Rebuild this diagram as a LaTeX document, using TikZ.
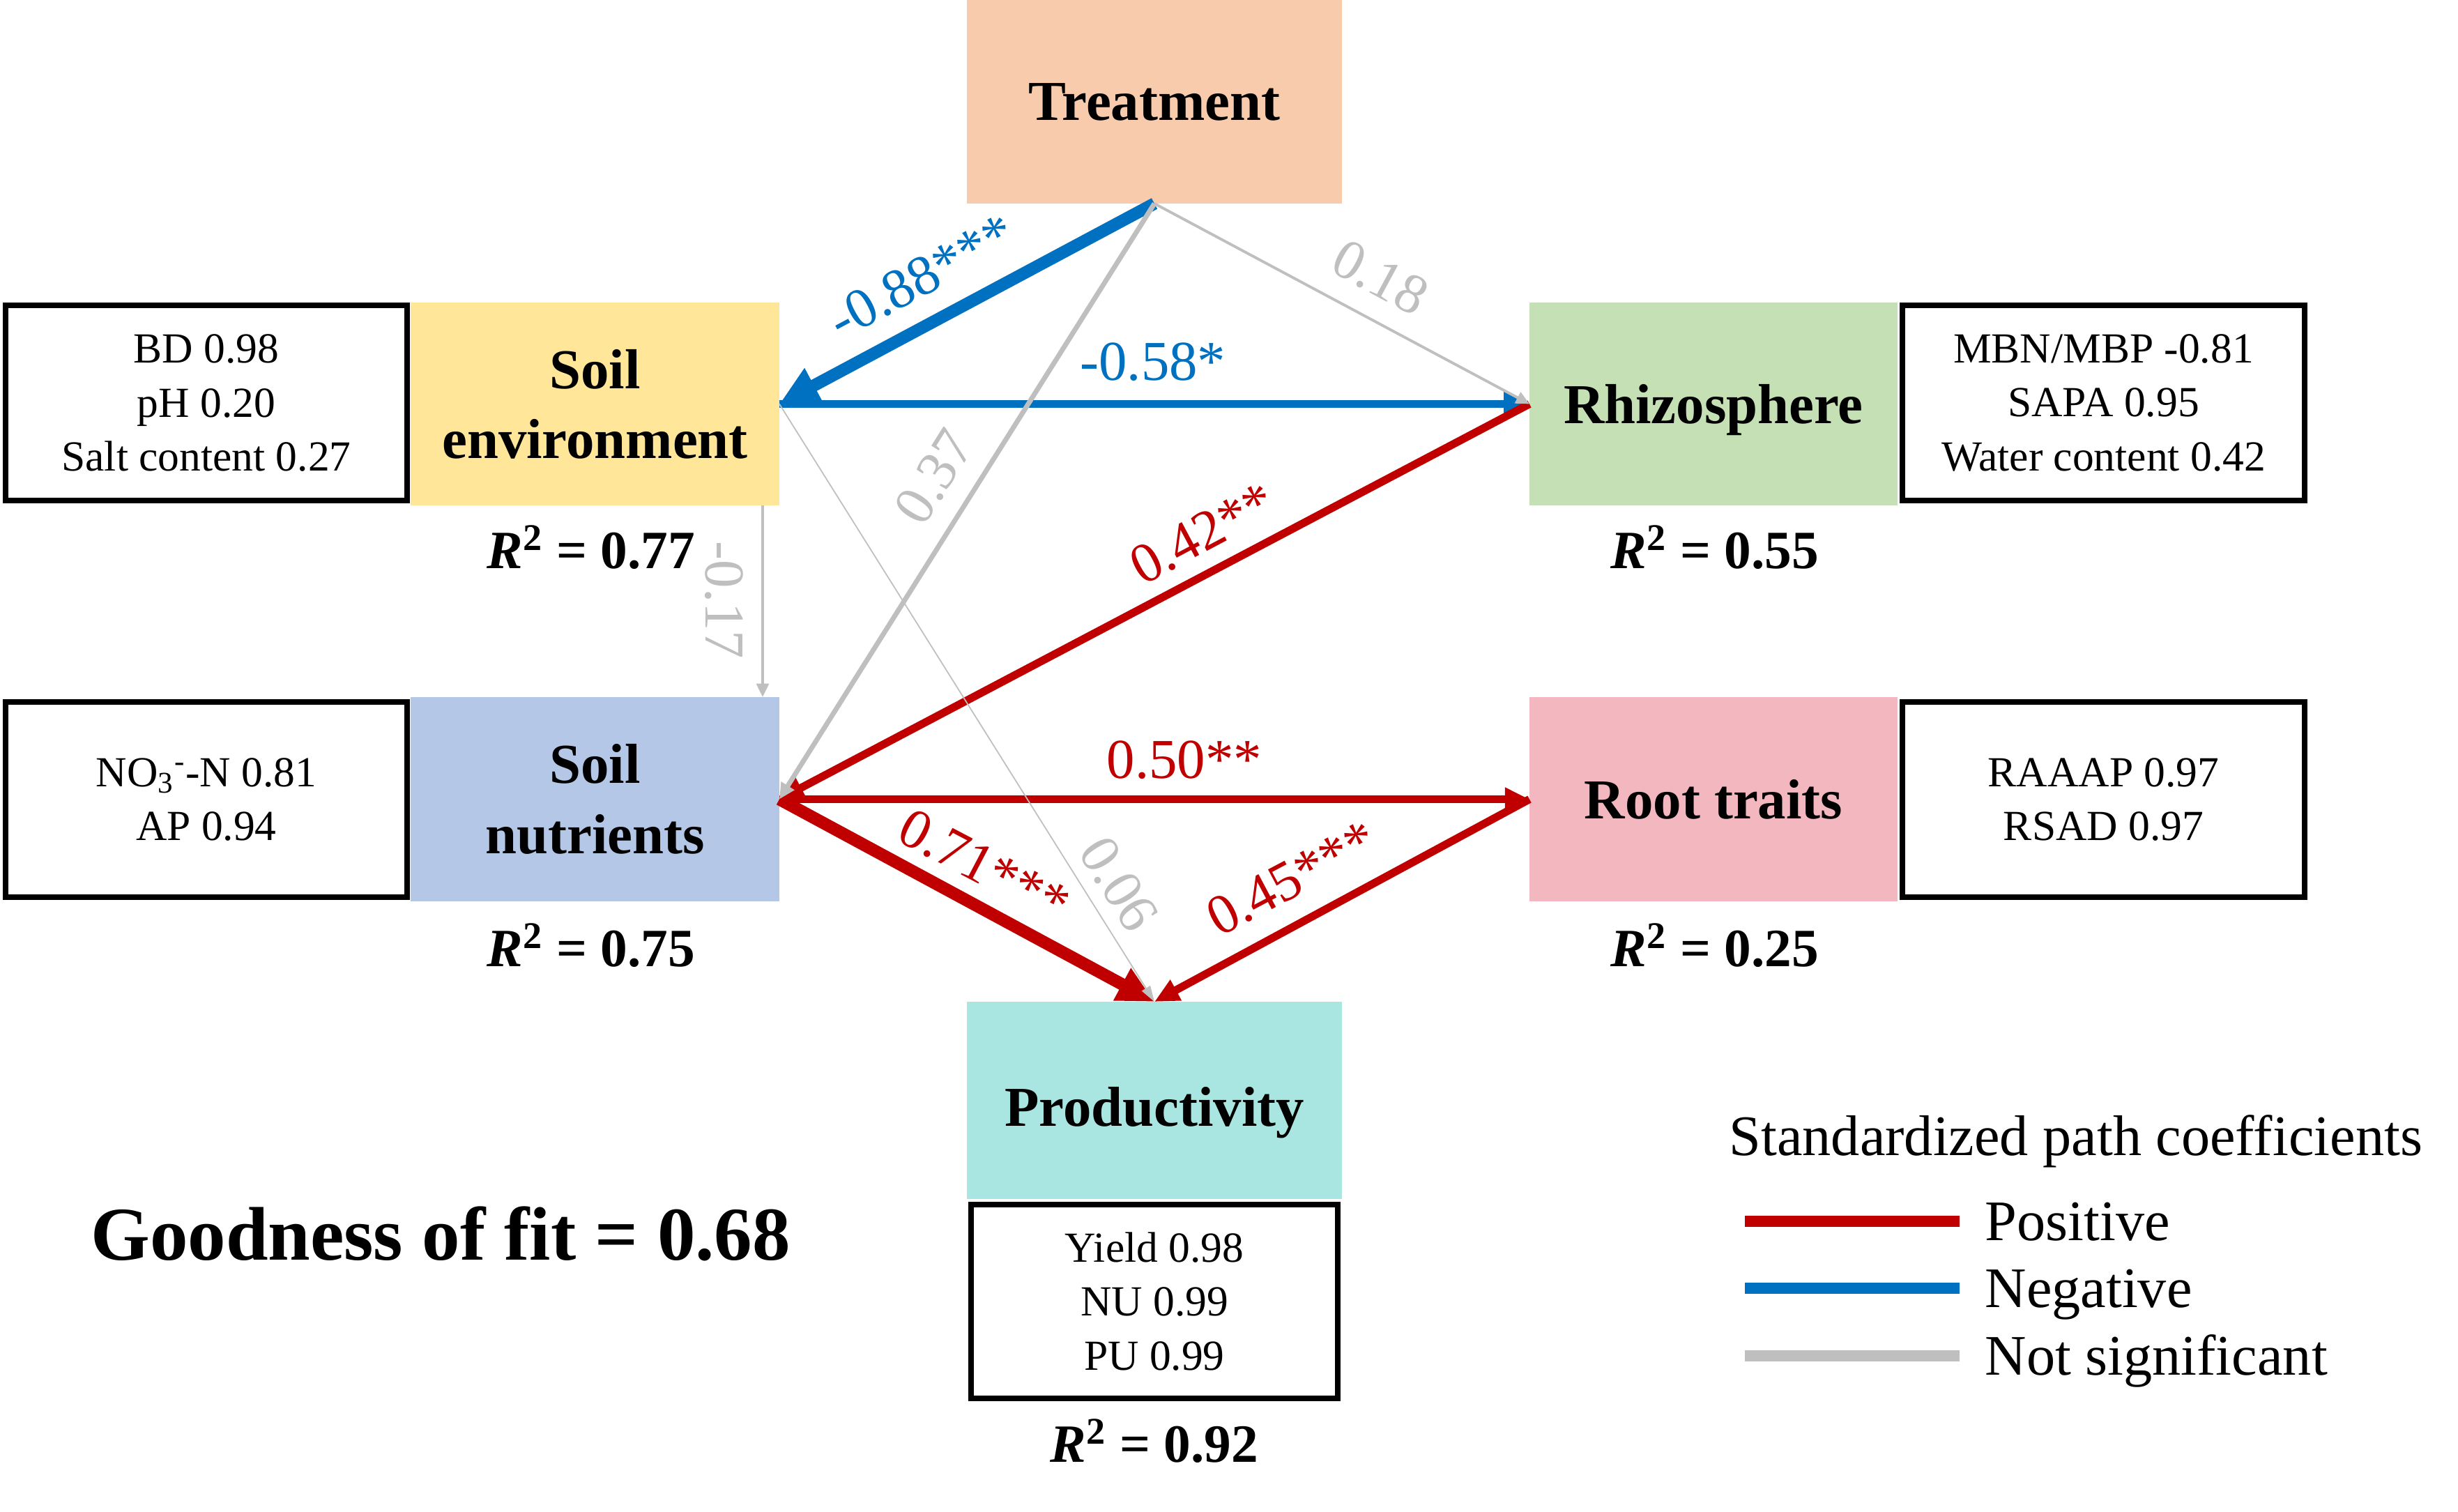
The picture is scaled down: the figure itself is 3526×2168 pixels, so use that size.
\documentclass[tikz,border=0pt]{standalone}
\usepackage{fontspec}
\setmainfont{Liberation Serif}
\usetikzlibrary{arrows.meta,calc}
\definecolor{cT}{HTML}{F8CBAD}
\definecolor{cSE}{HTML}{FFE699}
\definecolor{cSN}{HTML}{B4C7E7}
\definecolor{cRH}{HTML}{C5E0B4}
\definecolor{cRT}{HTML}{F3B7BF}
\definecolor{cPR}{HTML}{AAE6E1}
\definecolor{cBlue}{HTML}{0070C0}
\definecolor{cRed}{HTML}{C00000}
\definecolor{cGray}{HTML}{BFBFBF}
\newcommand{\BoxFont}{\fontsize{23pt}{28.5pt}\selectfont\bfseries}
\newcommand{\IndFont}{\fontsize{17.5pt}{22pt}\selectfont}
\newcommand{\LblFont}{\fontsize{23pt}{27pt}\selectfont}
\newcommand{\RsqFont}{\fontsize{22pt}{26pt}\selectfont\bfseries}
\newcommand{\GofFont}{\fontsize{31pt}{36pt}\selectfont\bfseries}
\newcommand{\LegFont}{\fontsize{23.4pt}{28pt}\selectfont}
\begin{document}
\begin{tikzpicture}[x=0.1mm,y=-0.1mm,
  fbox/.style={inner sep=0pt, outer sep=0pt, align=center, font=\BoxFont},
  ibox/.style={draw=black, line width=0.75mm, fill=white, inner sep=0pt, outer sep=0pt, align=center, font=\IndFont},
  lbl/.style={inner sep=1pt, font=\LblFont},
  rsq/.style={inner sep=0pt, font=\RsqFont},
  legtxt/.style={anchor=base west, inner sep=0pt, font=\LegFont},
  legline/.style={line width=4.3pt},
  thickpos/.style={cRed, line width=5pt, -{Triangle[length=15pt, width=14pt]}},
  medpos/.style={cRed, line width=3.2pt, -{Triangle[length=10pt, width=9pt]}},
  thickneg/.style={cBlue, line width=5pt, -{Triangle[length=16pt, width=15pt]}},
  medneg/.style={cBlue, line width=3.3pt, -{Triangle[length=10.5pt, width=9.5pt]}},
  nsmed/.style={cGray, line width=2pt, -{Triangle[length=6.5pt, width=6pt]}},
  nsthin/.style={cGray, line width=1.1pt, -{Triangle[length=5.5pt, width=5pt]}},
  nshair/.style={cGray, line width=0.5pt, -{Triangle[length=6.5pt, width=4pt]}}
]
\useasboundingbox (0,0) rectangle (3526,2168);

% main boxes
\node[fbox, fill=cT, minimum width=53.8mm, minimum height=29.2mm] (T) at (1656,146) {Treatment};
\node[fbox, fill=cSE, minimum width=52.9mm, minimum height=29.1mm] (SE) at (853.5,579.5) {Soil\\environment};
\node[fbox, fill=cSN, minimum width=52.9mm, minimum height=29.3mm] (SN) at (853.5,1146.5) {Soil\\nutrients};
\node[fbox, fill=cRH, minimum width=52.8mm, minimum height=29.1mm, text depth=0pt] (RH) at (2458,579.5) {Rhizosphere};
\node[fbox, fill=cRT, minimum width=52.8mm, minimum height=29.3mm] (RT) at (2458,1146.5) {Root traits};
\node[fbox, fill=cPR, minimum width=53.8mm, minimum height=28.3mm, text depth=0pt, text height=21pt] (PR) at (1656,1578.5) {Productivity};

% indicator boxes
\node[ibox, minimum width=57.6mm, minimum height=28.0mm] (BD) at (296,578) {BD 0.98\\pH 0.20\\Salt content 0.27};
\node[ibox, minimum width=57.6mm, minimum height=28.0mm] (NO) at (296,1147) {NO\textsubscript{3}\textsuperscript{-}-N 0.81\\AP 0.94};
\node[ibox, minimum width=57.7mm, minimum height=28.0mm] (MB) at (3017.5,578) {MBN/MBP -0.81\\SAPA 0.95\\Water content 0.42};
\node[ibox, minimum width=57.7mm, minimum height=28.0mm] (RA) at (3017.5,1147) {RAAAP 0.97\\RSAD 0.97};
\node[ibox, minimum width=52.6mm, minimum height=27.8mm] (YD) at (1656,1867) {Yield 0.98\\NU 0.99\\PU 0.99};

% R2 labels
\node[rsq] (r1) at (848,785) {\textit{R}\textsuperscript{2} = 0.77};
\node[rsq] (r2) at (2460,785) {\textit{R}\textsuperscript{2} = 0.55};
\node[rsq] (r3) at (848,1356) {\textit{R}\textsuperscript{2} = 0.75};
\node[rsq] (r4) at (2460,1356) {\textit{R}\textsuperscript{2} = 0.25};
\node[rsq] (r5) at (1656,2067) {\textit{R}\textsuperscript{2} = 0.92};

\node[inner sep=0pt, font=\GofFont] (gof) at (632,1770) {Goodness of fit = 0.68};

% significant paths
\draw[thickneg] (T.south) -- (SE.east);
\draw[medneg] (SE.east) -- (RH.west);
\draw[medpos] (RH.west) -- (SN.east);
\draw[medpos] (SN.east) -- (RT.west);
\draw[thickpos] (SN.east) -- (PR.north);
\draw[medpos] (RT.west) -- (PR.north);

% non-significant paths
\draw[nsthin] (T.south) -- (RH.west);
\draw[nsmed] (T.south) -- (SN.east);
\draw[nsthin] ($(SE.south east)+(-24,0)$) -- ($(SN.north east)+(-24,0)$);
\draw[nshair] (SE.east) -- (PR.north);

% path labels
\node[lbl, text=cBlue, rotate=28.2] (l88) at (1322,397) {-0.88***};
\node[lbl, text=cBlue] (l58) at (1654,519) {-0.58*};
\node[lbl, text=cGray, rotate=-28.4] (l18) at (1980,398) {0.18};
\node[lbl, text=cGray, rotate=57.9] (l37) at (1340,684) {0.37};
\node[lbl, text=cGray, rotate=-90] (l17) at (1039,861) {-0.17};
\node[lbl, text=cRed, rotate=28] (l42) at (1725,765) {0.42**};
\node[lbl, text=cRed] (l50) at (1699,1090) {0.50**};
\node[lbl, text=cRed, rotate=-27.7] (l71) at (1412,1242) {0.71***};
\node[lbl, text=cGray, rotate=-57.9] (l06) at (1605,1268) {0.06};
\node[lbl, text=cRed, rotate=27.9] (l45) at (1853,1260) {0.45***};

% legend
\node[legtxt] (lgt) at (2480,1657) {Standardized path coefficients};
\coordinate (lpa) at (2503,1752); \coordinate (lpb) at (2811,1752);
\coordinate (lna) at (2503,1848); \coordinate (lnb) at (2811,1848);
\coordinate (lsa) at (2503,1945); \coordinate (lsb) at (2811,1945);
\draw[legline, cRed] (lpa) -- (lpb);
\draw[legline, cBlue] (lna) -- (lnb);
\draw[legline, cGray] (lsa) -- (lsb);
\node[legtxt] (lgp) at (2847,1779) {Positive};
\node[legtxt] (lgn) at (2847,1875) {Negative};
\node[legtxt] (lgs) at (2847,1972) {Not significant};
\end{tikzpicture}
\end{document}
